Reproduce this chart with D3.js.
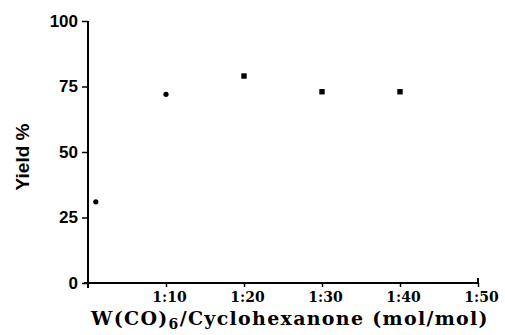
<!DOCTYPE html>
<html>
<head>
<meta charset="utf-8">
<script src="https://cdn.jsdelivr.net/npm/d3@7"></script>
<style>
  body { margin: 0; background: #fff; }
  svg { display: block; }
</style>
</head>
<body>
<div id="chart"></div>
<script>
// ratio W(CO)6 : cyclohexanone, given as 1:x
const ratios = [1, 10, 20, 30, 40];
const yields = [31, 72, 79, 73, 73];
const markers = ['circle', 'circle', 'square', 'square', 'square'];
const xTicks = [10, 20, 30, 40, 50];
const yTicks = [0, 25, 50, 75, 100];

const width = 505, height = 335;
const margin = { top: 21, right: 27, bottom: 52, left: 88 };

const svg = d3.select('#chart').append('svg')
  .attr('width', width)
  .attr('height', height);

const x = d3.scaleLinear().domain([0, 50]).range([margin.left, width - margin.right]);
const y = d3.scaleLinear().domain([0, 100]).range([height - margin.bottom, margin.top]);

// x axis
const gx = svg.append('g')
  .attr('transform', 'translate(0,' + y(0) + ')')
  .call(d3.axisBottom(x)
    .tickValues(xTicks)
    .tickSize(4)
    .tickSizeOuter(0)
    .tickFormat(d => '1:' + d));
gx.select('.domain').attr('stroke', '#000').attr('stroke-width', 2)
  .attr('d', 'M' + (x(0) - 4) + ',0H' + x(50) + 'V-5');
gx.selectAll('.tick line').attr('stroke', '#000').attr('stroke-width', 1.5);
gx.selectAll('text')
  .attr('fill', '#000')
  .attr('font-family', '"DejaVu Serif", serif')
  .attr('font-weight', 'bold')
  .attr('font-size', '14px')
  .attr('dx', 3)
  .attr('dy', '0.85em');

// y axis
const gy = svg.append('g')
  .attr('transform', 'translate(' + x(0) + ',0)')
  .call(d3.axisLeft(y)
    .tickValues(yTicks)
    .tickSize(6)
    .tickSizeOuter(0)
    .tickPadding(4));
gy.select('.domain').attr('stroke', '#000').attr('stroke-width', 2)
  .attr('d', 'M0,' + y(100) + 'V' + (y(0) + 5));
gy.selectAll('.tick line').attr('stroke', '#000').attr('stroke-width', 1.5);
gy.selectAll('text')
  .attr('fill', '#000')
  .attr('font-family', '"Liberation Sans Narrow", "Liberation Sans", Arial, sans-serif')
  .attr('font-weight', 'bold')
  .attr('font-size', '17px');

// data points
const pts = ratios.map((r, i) => ({ r: r, v: yields[i], m: markers[i] }));

svg.selectAll('.pt-circle')
  .data(pts.filter(d => d.m === 'circle'))
  .enter()
  .append('circle')
  .attr('class', 'pt-circle')
  .attr('cx', d => x(d.r))
  .attr('cy', d => y(d.v))
  .attr('r', 2.6)
  .attr('fill', '#000');

svg.selectAll('.pt-square')
  .data(pts.filter(d => d.m === 'square'))
  .enter()
  .append('rect')
  .attr('class', 'pt-square')
  .attr('x', d => x(d.r) - 2.7)
  .attr('y', d => y(d.v) - 2.7)
  .attr('width', 5.4)
  .attr('height', 5.4)
  .attr('fill', '#000');

// axis titles
svg.append('text')
  .attr('transform', 'translate(29,' + ((y(0) + y(100)) / 2 + 5) + ') rotate(-90)')
  .attr('text-anchor', 'middle')
  .attr('font-family', '"Liberation Sans Narrow", "Liberation Sans", Arial, sans-serif')
  .attr('font-weight', 'bold')
  .attr('font-size', '19px')
  .attr('fill', '#000')
  .text('Yield %');

const xt = svg.append('text')
  .attr('x', 290)
  .attr('y', 325)
  .attr('text-anchor', 'middle')
  .attr('font-family', '"DejaVu Serif", serif')
  .attr('font-weight', 'bold')
  .attr('font-size', '19px')
  .attr('letter-spacing', '1.3px')
  .attr('fill', '#000');
xt.append('tspan').text('W(CO)');
xt.append('tspan').attr('font-size', '14px').attr('dy', 4).text('6');
xt.append('tspan').attr('dy', -4).text('/Cyclohexanone (mol/mol)');
</script>
</body>
</html>
